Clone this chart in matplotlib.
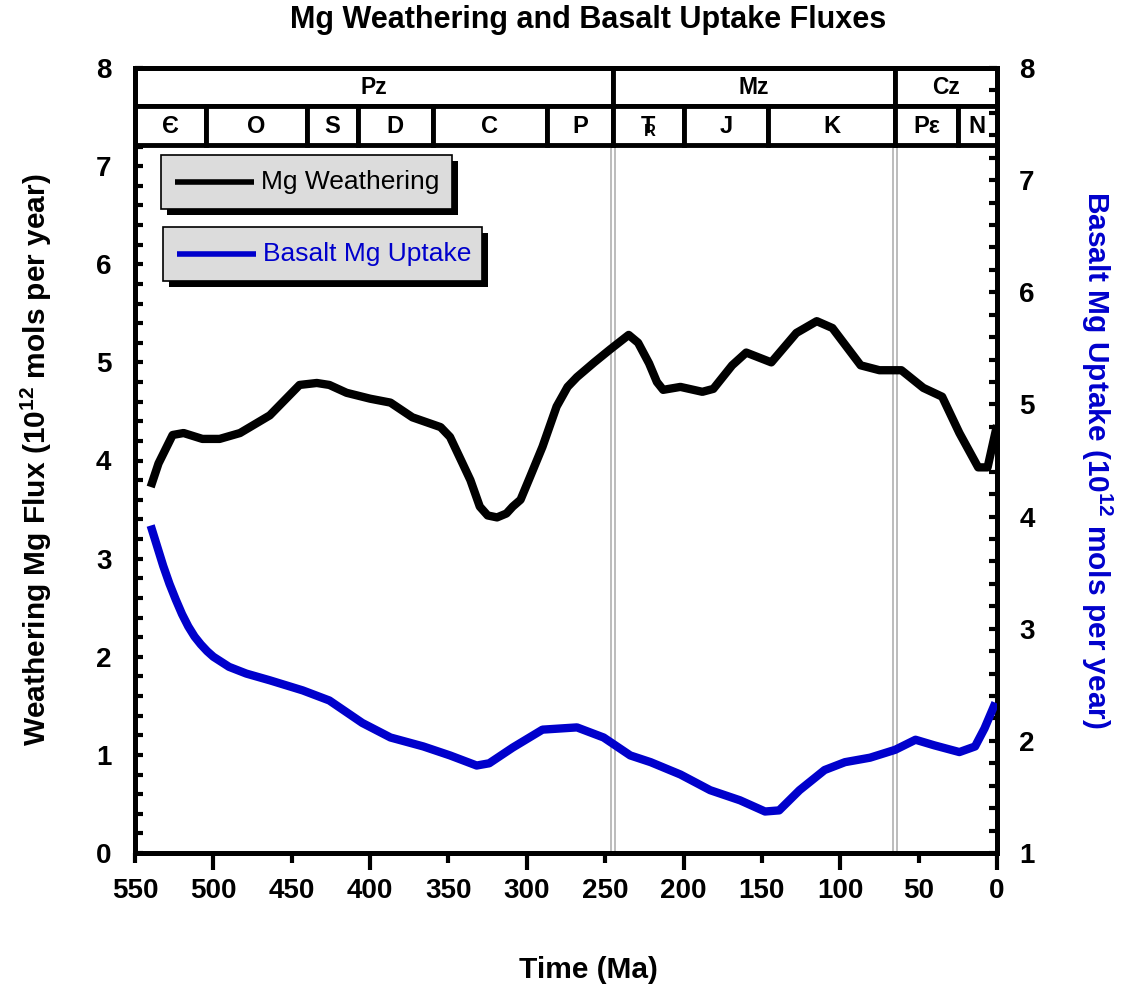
import matplotlib
matplotlib.use("Agg")
import matplotlib.pyplot as plt
from matplotlib.patches import Rectangle
from matplotlib.ticker import MultipleLocator, FixedLocator, FormatStrFormatter

plt.rcParams['font.family'] = ['Liberation Sans', 'DejaVu Sans']
plt.rcParams['font.weight'] = 'bold'
plt.rcParams['mathtext.fontset'] = 'custom'
plt.rcParams['mathtext.rm'] = 'Liberation Sans:bold'
plt.rcParams['mathtext.bf'] = 'Liberation Sans:bold'
plt.rcParams['mathtext.default'] = 'bf'

# Mg weathering flux (10^12 mol/yr) against age (Ma)
weath_age = [540, 535, 526, 519, 507, 496, 483, 464, 445, 434, 426, 415, 400,
             387, 373, 355, 349, 341, 336, 330, 325, 319, 313, 309, 304, 298,
             290, 281, 274, 268, 257, 247, 235, 229, 222, 217, 213, 202, 188,
             181, 169, 160, 144, 128, 115, 105, 87, 75, 61, 47, 35, 24, 12, 6, 0]
weath_flux = [3.73, 3.97, 4.26, 4.28, 4.22, 4.22, 4.28, 4.46, 4.77, 4.79, 4.77,
              4.69, 4.63, 4.59, 4.44, 4.34, 4.24, 3.97, 3.80, 3.53, 3.44, 3.42,
              3.46, 3.53, 3.60, 3.83, 4.14, 4.55, 4.75, 4.85, 5.00, 5.13, 5.28,
              5.20, 4.99, 4.80, 4.72, 4.75, 4.70, 4.73, 4.97, 5.10, 5.00, 5.30,
              5.42, 5.35, 4.97, 4.92, 4.92, 4.74, 4.65, 4.28, 3.93, 3.93, 4.36]

# Basalt Mg uptake (10^12 mol/yr) against age (Ma)
basalt_age = [540, 536, 532, 528, 524, 520, 516, 512, 508, 504, 500, 490, 479,
              464, 443, 426, 405, 387, 366, 349, 332, 324, 309, 290, 268, 251,
              234, 221, 202, 183, 164, 148, 139, 126, 110, 97, 81, 65, 52, 40,
              24, 14, 8, 1]
basalt_uptake = [3.92, 3.74, 3.56, 3.40, 3.26, 3.13, 3.02, 2.93, 2.86, 2.80,
                 2.75, 2.66, 2.60, 2.54, 2.45, 2.36, 2.16, 2.03, 1.95, 1.87,
                 1.78, 1.80, 1.94, 2.10, 2.12, 2.03, 1.87, 1.81, 1.70, 1.56,
                 1.47, 1.37, 1.38, 1.56, 1.74, 1.81, 1.85, 1.92, 2.01, 1.96,
                 1.90, 1.95, 2.11, 2.34]

# Geologic time scale
eras = ['Pz', 'Mz', 'Cz']
era_bounds = [550, 245, 65, 0]
periods = ['Є', 'O', 'S', 'D', 'C', 'P', r'$\mathbf{T}_{\!\!\!\!\mathbf{R}}$',
           'J', 'K', 'Pε', 'N']
period_bounds = [550, 505, 440, 408, 360, 287, 245, 200, 146, 65, 25, 0]
era_lines = [245, 65]

x_major = [500, 400, 300, 200, 100, 0]
x_minor = [550, 450, 350, 250, 150, 50]

BLUE = '#0000cc'
W, H = 1124, 989

fig = plt.figure(figsize=(W / 100, H / 100), dpi=100)
ax = fig.add_axes([135 / W, 1 - 853 / H, 862 / W, 785 / H])
ax2 = ax.twinx()

ax.set_xlim(550, 0)
ax.set_ylim(0, 8)
ax2.set_ylim(1, 8)

# era boundary double lines
for b in era_lines:
    for off in (-1.3, 1.3):
        ax.plot([b + off, b + off], [0, 7.22], color='#b0b0b0', lw=1.2,
                zorder=1, solid_capstyle='butt')

ax.plot(weath_age, weath_flux, color='black', lw=6, solid_joinstyle='round',
        solid_capstyle='butt', zorder=3)
ax2.plot(basalt_age, basalt_uptake, color=BLUE, lw=6, solid_joinstyle='round',
         solid_capstyle='butt', zorder=3)

# time-scale boxes
y_era0, y_era1 = 7.61, 8.0
y_per0, y_per1 = 7.22, 7.61
for i, name in enumerate(eras):
    a, b = era_bounds[i + 1], era_bounds[i]
    ax.add_patch(Rectangle((a, y_era0), b - a, y_era1 - y_era0, fc='white',
                           ec='black', lw=3.5, zorder=4, clip_on=False))
    ax.text((a + b) / 2, 7.805, name, ha='center', va='center', fontsize=16.5,
            fontweight='bold', zorder=5)
for i, name in enumerate(periods):
    a, b = period_bounds[i + 1], period_bounds[i]
    ax.add_patch(Rectangle((a, y_per0), b - a, y_per1 - y_per0, fc='white',
                           ec='black', lw=3.5, zorder=4, clip_on=False))
    ax.text((a + b) / 2, 7.405, name, ha='center', va='center', fontsize=17,
            fontweight='bold', zorder=5)

# axes styling
for a_ in (ax, ax2):
    for sp in a_.spines.values():
        sp.set_linewidth(3.5)

ax.xaxis.set_major_locator(FixedLocator(x_major))
ax.xaxis.set_minor_locator(FixedLocator(x_minor))
ax.xaxis.set_major_formatter(FormatStrFormatter('%d'))
ax.xaxis.set_minor_formatter(FormatStrFormatter('%d'))
ax.tick_params(axis='x', which='major', direction='out', length=12, width=3,
               pad=6, labelsize=20, top=False)
ax.tick_params(axis='x', which='minor', direction='out', length=7, width=3,
               pad=11, labelsize=20, top=False)

ax.yaxis.set_major_locator(MultipleLocator(1))
ax.yaxis.set_minor_locator(MultipleLocator(0.2))
ax.tick_params(axis='y', which='both', direction='in', length=6, width=3,
               pad=17, labelsize=20, right=False)

ax2.yaxis.set_major_locator(MultipleLocator(1))
ax2.yaxis.set_minor_locator(MultipleLocator(0.2))
ax2.tick_params(axis='y', which='both', direction='in', length=6, width=3,
                pad=16, labelsize=20)

for lbl in ax.get_xticklabels(which='both') + ax.get_yticklabels() + ax2.get_yticklabels():
    lbl.set_fontweight('bold')

# titles and axis labels
fig.text(588 / W, 1 - 20 / H, 'Mg Weathering and Basalt Uptake Fluxes',
         ha='center', va='center', fontsize=22, fontweight='bold')
fig.text(588 / W, 1 - 970 / H, 'Time (Ma)', ha='center', va='center',
         fontsize=21.5, fontweight='bold')
fig.text(36 / W, 1 - 460 / H, r'Weathering Mg Flux (10$^{12}$ mols per year)',
         ha='center', va='center', rotation=90, fontsize=21.5, fontweight='bold')
fig.text(1097 / W, 1 - 460 / H, r'Basalt Mg Uptake (10$^{12}$ mols per year)',
         ha='center', va='center', rotation=-90, fontsize=21.5,
         fontweight='bold', color=BLUE)

# legend boxes with drop shadows
ov = fig.add_axes([0, 0, 1, 1], zorder=10)
ov.set_xlim(0, W)
ov.set_ylim(H, 0)
ov.axis('off')
ov.patch.set_alpha(0)

legend_items = [
    ('Mg Weathering', 'black', (161, 155, 291, 54)),
    ('Basalt Mg Uptake', BLUE, (163, 227, 319, 54)),
]
for text, col, (x0, y0, w, h) in legend_items:
    ov.add_patch(Rectangle((x0 + 6, y0 + 6), w, h, fc='black', ec='none'))
    ov.add_patch(Rectangle((x0, y0), w, h, fc='#dcdcdc', ec='black', lw=1.2))
    yc = y0 + h / 2
    ov.plot([x0 + 14, x0 + 93], [yc, yc], color=col, lw=4,
            solid_capstyle='butt')
    ov.text(x0 + 100, yc, text, ha='left', va='center', fontsize=19,
            fontweight='normal', color=col)

fig.savefig('out.png', dpi=100)
